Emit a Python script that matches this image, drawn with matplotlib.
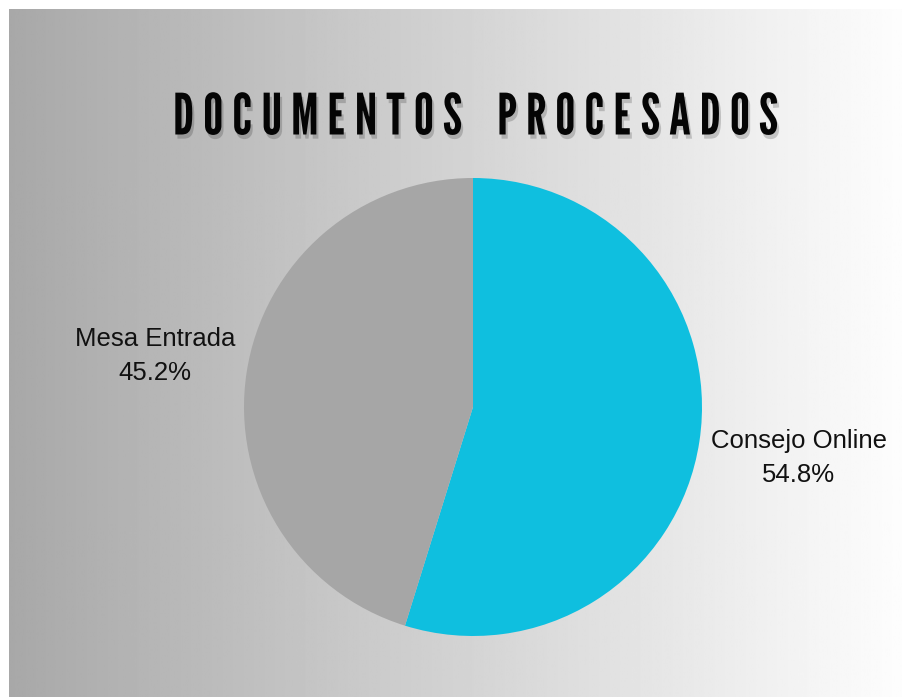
import matplotlib.pyplot as plt
import matplotlib.patheffects as pe
import matplotlib.transforms as mtransforms
import numpy as np

# data
labels = ["Consejo Online", "Mesa Entrada"]
values = [54.8, 45.2]
colors = ["#0fbfdf", "#a6a6a6"]
title = "DOCUMENTOS PROCESADOS"

W, H = 902, 697
fig = plt.figure(figsize=(W / 100, H / 100), dpi=100)
fig.patch.set_facecolor("white")

# gray -> white gradient background (leaves a thin white margin top/left)
bg = fig.add_axes([9 / W, 0, 1 - 9 / W, 1 - 9 / H])
grad = np.linspace(168, 253, 512)[None, :] / 255.0
bg.imshow(np.repeat(grad, 2, axis=0), cmap="gray", vmin=0, vmax=1,
          aspect="auto", extent=[0, 1, 0, 1])
bg.set_axis_off()

# pie axes: centre (473, 407) px, radius 229 px
cx, cy, r = 473, 407, 229
ax = fig.add_axes([(cx - r) / W, (H - cy - r) / H, 2 * r / W, 2 * r / H])
ax.set_facecolor("none")

pie_labels = [f"{n}\n{v:.1f}%" for n, v in zip(labels, values)]
wedges, texts = ax.pie(values, labels=pie_labels, colors=colors,
                       startangle=90, counterclock=False,
                       labeldistance=1.05,
                       wedgeprops=dict(linewidth=0),
                       textprops=dict(fontsize=18.5, color="#111111",
                                      family="Liberation Sans",
                                      multialignment="center",
                                      linespacing=1.55))
# labels sit a bit further from the horizontal than matplotlib puts them
for t, dy in zip(texts, [-15, 15]):
    t.set_transform(t.get_transform() +
                    mtransforms.ScaledTranslation(0, dy / 100, fig.dpi_scale_trans))
ax.set_xlim(-1, 1)
ax.set_ylim(-1, 1)
ax.set_aspect("equal")
ax.axis("off")

spaced = "    ".join(" ".join(w) for w in title.split())
fig.text(475 / W, 1 - 119 / H, spaced, ha="center", va="center",
         fontsize=41, family=["League Gothic", "DejaVu Sans"], color="#050505",
         path_effects=[pe.SimplePatchShadow(offset=(1.5, -3), alpha=0.18,
                                            shadow_rgbFace="black"),
                       pe.Normal()])

fig.savefig("out.png", dpi=100, facecolor=fig.get_facecolor())
